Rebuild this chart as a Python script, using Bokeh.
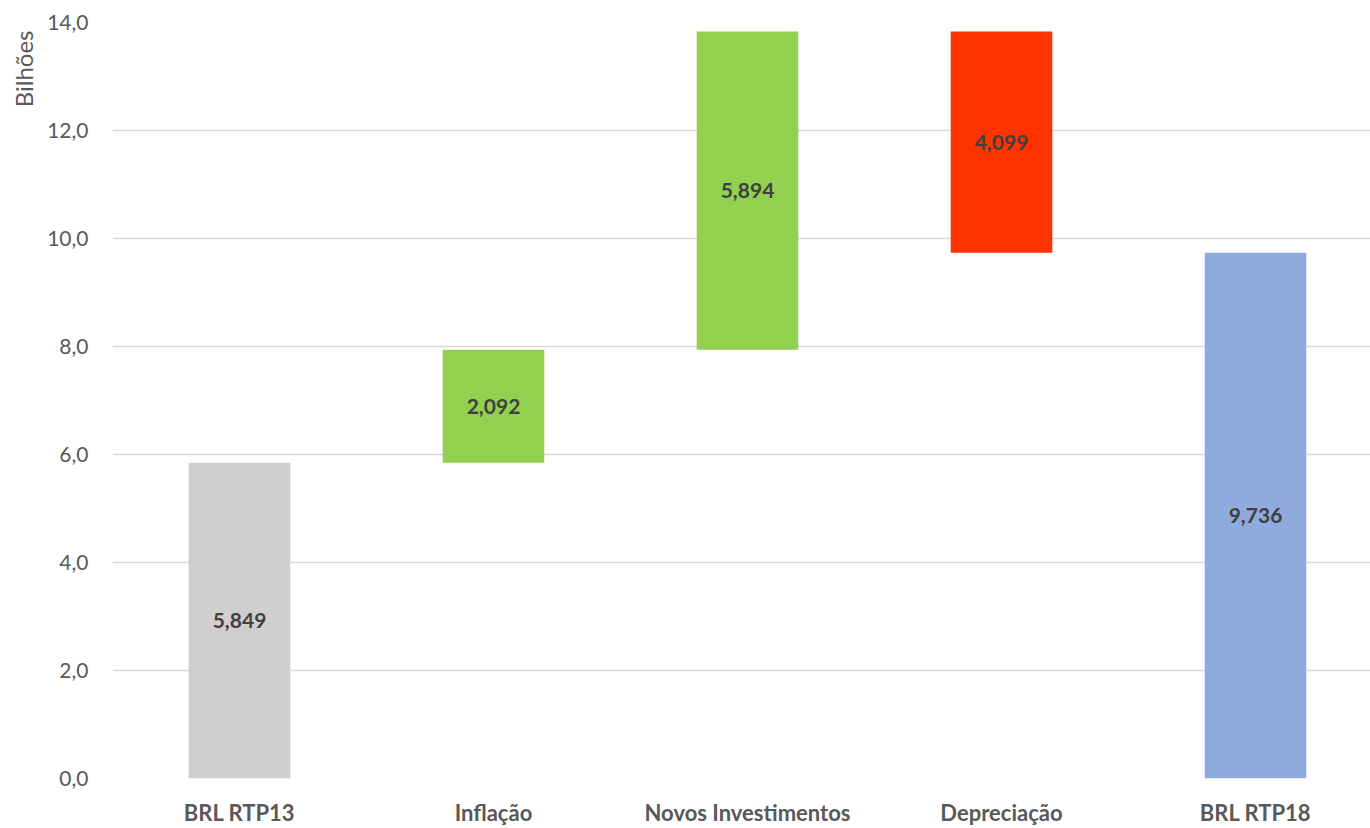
from bokeh.plotting import figure
from bokeh.models import FixedTicker, Range1d, Title, ColumnDataSource
from bokeh.core.properties import value
from bokeh.embed import file_html
from bokeh.resources import INLINE

categories = ["BRL RTP13", "Inflação", "Novos Investimentos", "Depreciação", "BRL RTP18"]
changes = [5.849, 2.092, 5.894, -4.099, 9.736]
kinds = ["total", "delta", "delta", "delta", "total"]
bar_colors = ["#D0CECE", "#92D050", "#92D050", "#FF3300", "#8FAADC"]
value_labels = ["5,849", "2,092", "5,894", "4,099", "9,736"]
y_ticks = [0, 2, 4, 6, 8, 10, 12, 14]
y_tick_labels = ["0,0", "2,0", "4,0", "6,0", "8,0", "10,0", "12,0", "14,0"]

# waterfall bottoms/tops
bottoms, tops = [], []
running = 0.0
for c, k in zip(changes, kinds):
    if k == "total":
        b, t = 0.0, c
        running = c
    else:
        b, t = running, running + c
        running = t
    bottoms.append(min(b, t))
    tops.append(max(b, t))
xs = list(range(len(categories)))
mids = [(b + t) / 2 for b, t in zip(bottoms, tops)]

src = ColumnDataSource(dict(x=xs, bottom=bottoms, top=tops, color=bar_colors,
                            mid=mids, label=value_labels))

p = figure(width=1370, height=828, output_backend="svg", toolbar_location=None,
           x_range=Range1d(-0.5, -0.5 + 1258 / 254), y_range=Range1d(0, 14),
           min_border_left=112, min_border_top=22, min_border_right=0, min_border_bottom=50)
p.outline_line_color = None
p.background_fill_color = "white"
p.border_fill_color = "white"

p.vbar(x="x", bottom="bottom", top="top", width=0.4, color="color", source=src, line_color=None)
p.text(x="x", y="mid", text="label", source=src, text_align="center", text_baseline="middle",
       text_font=value("Lato"), text_font_size="21px", text_font_style="bold", text_color="#404040")

p.xgrid.grid_line_color = None
p.ygrid.grid_line_color = "#D9D9D9"
p.ygrid.grid_line_width = 1.5
p.ygrid.ticker = FixedTicker(ticks=y_ticks)

p.yaxis.ticker = FixedTicker(ticks=y_ticks)
p.yaxis.major_label_overrides = {t: l for t, l in zip(y_ticks, y_tick_labels)}
p.yaxis.axis_line_color = None
p.yaxis.major_tick_line_color = None
p.yaxis.minor_tick_line_color = None
p.yaxis.major_tick_out = 0
p.yaxis.major_label_standoff = 24
p.yaxis.major_label_text_font = "Lato"
p.yaxis.major_label_text_font_size = "21px"
p.yaxis.major_label_text_color = "#595959"

p.xaxis.ticker = FixedTicker(ticks=xs)
p.xaxis.major_label_overrides = {i: c for i, c in zip(xs, categories)}
p.xaxis.axis_line_color = None
p.xaxis.major_tick_line_color = None
p.xaxis.minor_tick_line_color = None
p.xaxis.major_tick_out = 0
p.xaxis.major_label_standoff = 20
p.xaxis.major_label_text_font = "Lato"
p.xaxis.major_label_text_font_size = "22px"
p.xaxis.major_label_text_font_style = "bold"
p.xaxis.major_label_text_color = "#595959"

ttl = Title(text="Bilhões", align="right", vertical_align="top", offset=8, standoff=10,
            text_font="Lato", text_font_size="24px", text_font_style="normal",
            text_color="#595959")
p.add_layout(ttl, "left")

open("out.html", "w").write(file_html(p, INLINE))
